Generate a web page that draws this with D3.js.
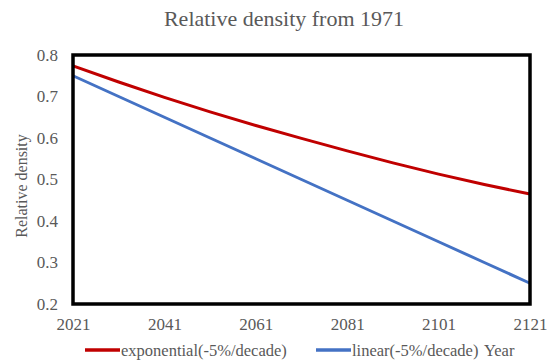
<!DOCTYPE html>
<html>
<head>
<meta charset="utf-8">
<script src="https://cdn.jsdelivr.net/npm/d3@7"></script>
<style>
  body { margin: 0; background: #fff; }
</style>
</head>
<body>
<svg id="chart" width="558" height="363"></svg>
<script>
// values, every 10 years
const years = [2021, 2031, 2041, 2051, 2061, 2071, 2081, 2091, 2101, 2111, 2121];
const exponential = [0.774, 0.735, 0.698, 0.663, 0.630, 0.599, 0.569, 0.540, 0.513, 0.488, 0.465];
const linear = [0.75, 0.70, 0.65, 0.60, 0.55, 0.50, 0.45, 0.40, 0.35, 0.30, 0.25];
const xTicks = [2021, 2041, 2061, 2081, 2101, 2121];
const yTicks = [0.2, 0.3, 0.4, 0.5, 0.6, 0.7, 0.8];
const seriesNames = ["exponential(-5%/decade)", "linear(-5%/decade)"];
const colors = ["#C00000", "#4472C4"];

const FONT = "'Liberation Serif', 'Times New Roman', serif";
const GREY = "#595959";

const svg = d3.select("#chart");
const plotLeft = 73, plotRight = 530, plotTop = 55, plotBottom = 304;

let x = d3.scaleLinear().domain([2021, 2121]).range([plotLeft, plotRight]);
let y = d3.scaleLinear().domain([0.2, 0.8]).range([plotBottom, plotTop]);

// title
svg.append("text")
    .attr("x", 284).attr("y", 26)
    .attr("text-anchor", "middle")
    .style("font-family", FONT)
    .style("font-size", "22px")
    .attr("fill", GREY)
    .text("Relative density from 1971");

// y tick labels
svg.append("g")
    .attr("transform", "translate(" + (plotLeft - 15) + ",0)")
    .call(d3.axisLeft(y).tickValues(yTicks).tickSize(0).tickPadding(0).tickFormat(d3.format(".1f")))
    .call(g => g.select(".domain").remove())
    .selectAll("text")
    .style("font-family", FONT)
    .style("font-size", "17px")
    .attr("fill", GREY);

// x tick labels
svg.append("g")
    .attr("transform", "translate(0," + (plotBottom + 14) + ")")
    .call(d3.axisBottom(x).tickValues(xTicks).tickSize(0).tickPadding(0).tickFormat(d3.format("d")))
    .call(g => g.select(".domain").remove())
    .selectAll("text")
    .style("font-family", FONT)
    .style("font-size", "17px")
    .attr("fill", GREY);

// y axis title
svg.append("text")
    .attr("transform", "translate(27,186) rotate(-90)")
    .attr("text-anchor", "middle")
    .style("font-family", FONT)
    .style("font-size", "16px")
    .attr("fill", GREY)
    .text("Relative density");

// lines
let line = d3.line()
    .x((d, i) => x(years[i]))
    .y(d => y(d));

[exponential, linear].forEach(function(s, i) {
    svg.append("path")
        .attr("d", line(s))
        .attr("fill", "none")
        .attr("stroke", colors[i])
        .attr("stroke-width", 3);
});

// plot border
svg.append("rect")
    .attr("x", plotLeft).attr("y", plotTop)
    .attr("width", plotRight - plotLeft).attr("height", plotBottom - plotTop)
    .attr("fill", "none")
    .attr("stroke", "#000")
    .attr("stroke-width", 3.5);

// legend
let legendY = 356;
let legendX = [85, 316];
seriesNames.forEach(function(name, i) {
    svg.append("line")
        .attr("x1", legendX[i]).attr("x2", legendX[i] + 35)
        .attr("y1", legendY - 6).attr("y2", legendY - 6)
        .attr("stroke", colors[i])
        .attr("stroke-width", 3.5);
    svg.append("text")
        .attr("x", legendX[i] + 36).attr("y", legendY)
        .style("font-family", FONT)
        .style("font-size", "16.5px")
        .attr("fill", GREY)
        .text(name);
});
svg.append("text")
    .attr("x", 484).attr("y", legendY)
    .style("font-family", FONT)
    .style("font-size", "16.5px")
    .attr("fill", GREY)
    .text("Year");
</script>
</body>
</html>
